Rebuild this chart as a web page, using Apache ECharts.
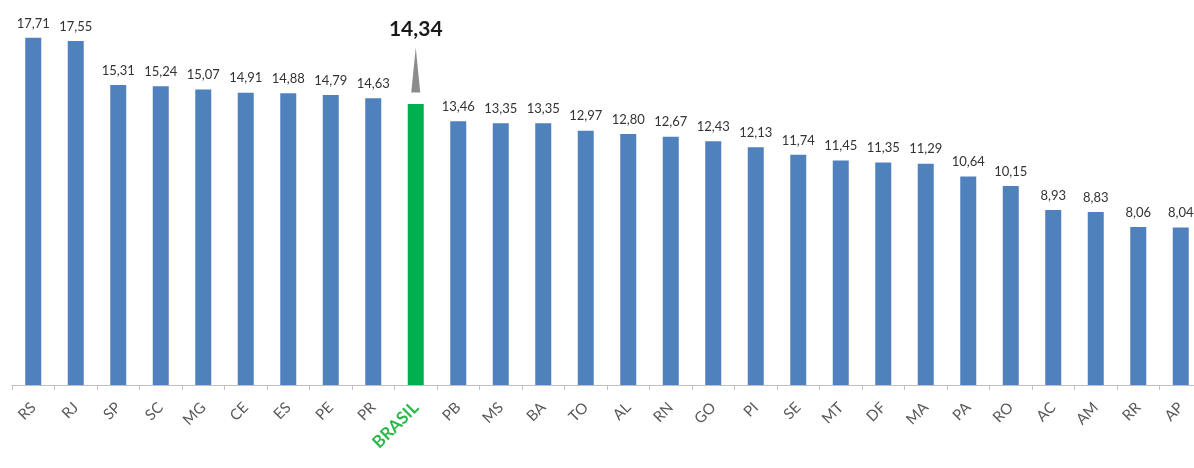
<!DOCTYPE html>
<html><head><meta charset="utf-8">
<script src="https://cdn.jsdelivr.net/npm/echarts@6/dist/echarts.min.js"></script>
<style>html,body{margin:0;padding:0;background:#fff}#c{width:1194px;height:468px}</style>
</head><body><div id="c"></div>
<script>
const categories = ['RS','RJ','SP','SC','MG','CE','ES','PE','PR','BRASIL','PB','MS','BA','TO','AL','RN','GO','PI','SE','MT','DF','MA','PA','RO','AC','AM','RR','AP'];
const values = [17.71,17.55,15.31,15.24,15.07,14.91,14.88,14.79,14.63,14.34,13.46,13.35,13.35,12.97,12.80,12.67,12.43,12.13,11.74,11.45,11.35,11.29,10.64,10.15,8.93,8.83,8.06,8.04];
const highlight = 'BRASIL';

const FONT = 'Lato, "Open Sans", sans-serif';
const fmt = v => v.toFixed(2).replace('.', ',');

const data = values.map((v, i) => {
  if (categories[i] === highlight) {
    return {
      value: v,
      itemStyle: { color: '#00b04f' },
      label: { show: true, formatter: p => fmt(p.value), fontSize: 21, fontWeight: 'bold', color: '#1a1a1a', distance: 64 }
    };
  }
  return v;
});

const chart = echarts.init(document.getElementById('c'));
chart.setOption({
  animation: false,
  grid: { left: 12, width: 1190, top: 0, bottom: 83, containLabel: false, outerBoundsMode: 'none' },
  xAxis: {
    type: 'category',
    data: categories,
    axisLine: { lineStyle: { color: '#bfbfbf', width: 1 } },
    axisTick: { show: true, length: 5, lineStyle: { color: '#bfbfbf' } },
    axisLabel: {
      rotate: 45, interval: 0, margin: 20, fontSize: 15, color: '#595959', fontFamily: FONT,
      hideOverlap: false,
      formatter: v => v === highlight ? '{h|' + v + '}' : v,
      rich: { h: { color: '#2db84d', fontWeight: 'bold', fontSize: 17, fontFamily: FONT } }
    }
  },
  yAxis: { type: 'value', min: 0, max: 19.64, show: false, splitLine: { show: false } },
  series: [{
    type: 'bar',
    data: data,
    barWidth: 16,
    itemStyle: { color: '#4f81bd' },
    label: { show: true, position: 'top', distance: 8, fontSize: 13, color: '#333', fontFamily: FONT, formatter: p => fmt(p.value) },
    markPoint: {
      silent: true,
      symbol: 'triangle',
      symbolSize: [9, 45],
      symbolOffset: [0, -34],
      itemStyle: { color: '#8c8c8c' },
      label: { show: false },
      data: [{ coord: [highlight, values[categories.indexOf(highlight)]] }]
    }
  }]
});
</script></body></html>
